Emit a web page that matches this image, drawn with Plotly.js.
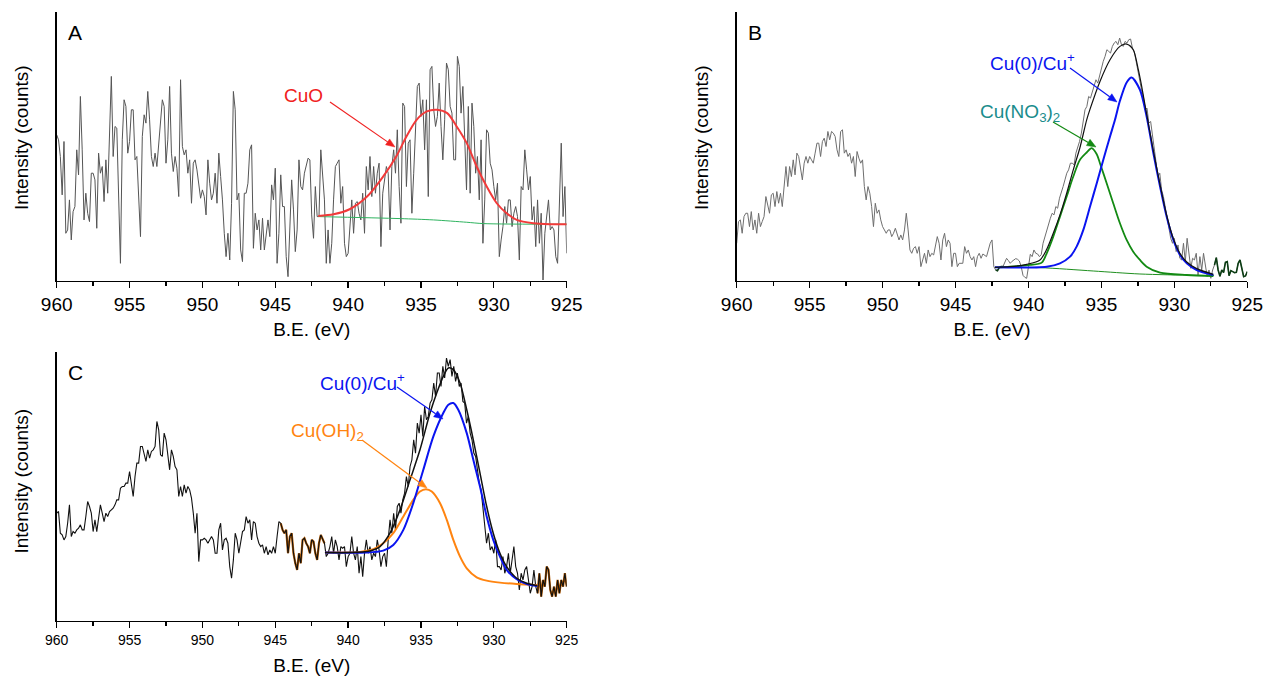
<!DOCTYPE html>
<html>
<head>
<meta charset="utf-8">
<script src="https://cdn.plot.ly/plotly-3.0.1.min.js"></script>
<style>html,body{margin:0;padding:0;background:#fff}#chart{width:1266px;height:678px}</style>
</head>
<body>
<div id="chart"></div>
<script>
// ---- energy grid (B.E., eV): data sampled every 0.125 eV from 960 eV down to 925 eV
const beStart = 960;
const beStep = 0.125;
const beTicks = [960, 955, 950, 945, 940, 935, 930, 925];
const beTickText = ['960', '955', '950', '945', '940', '935', '930', '925'];
const beMinorTicks = [957.5, 952.5, 947.5, 942.5, 937.5, 932.5, 927.5];

// ---- Panel A: raw counts (arbitrary units)
const countsA = [
438,423,373,258,418,143,153,243,123,208,
223,393,318,553,393,183,263,203,178,323,
323,303,158,383,323,343,238,363,263,433,
613,373,463,458,283,53,423,543,523,383,
418,513,513,363,373,273,133,433,498,473,
568,483,373,343,383,343,403,473,543,523,
353,423,583,383,328,373,338,253,603,403,
378,393,323,363,233,353,363,333,283,248,
273,253,198,363,293,243,263,323,233,383,
313,243,143,73,143,63,233,568,513,243,
263,93,58,263,263,293,393,408,98,203,
153,183,93,188,93,143,183,133,288,243,
338,53,143,318,223,223,73,13,143,303,
213,88,153,363,283,273,323,343,368,363,
198,128,283,193,
193,393,313,243,53,153,53,113,243,343,
353,363,233,283,113,73,83,183,243,143,
233,238,203,183,263,143,343,273,373,253,
343,263,323,353,103,263,303,343,323,153,
343,393,323,453,283,173,533,523,283,413,
423,203,323,473,583,593,493,543,393,543,
253,633,643,513,463,493,593,463,363,483,
653,633,523,503,363,363,673,643,503,583,
433,273,523,263,533,463,323,373,243,423,
113,243,453,443,353,333,283,243,293,73,
123,163,223,173,243,243,163,203,223,193,
63,283,273,393,333,273,313,183,223,103,
243,113,203,3,143,193,243,153,163,153,
73,53,203,413,193,283,83
];
const cuoFitBE = [942.05,941.0,939.9,938.7,937.6,936.7,936.0,935.3,934.6,933.9,933.2,932.55,931.86,931.18,930.49,929.8,929.12,928.43,927.29,926.14,925.0];
const cuoFitCounts = [195,200,215,253,313,373,433,483,508,513,503,463,413,343,283,233,203,183,173,170,170];
const bgA_BE = [942.05,936.44,934.15,931.86,930.7,925.0];
const bgA_Counts = [193,187,183,176,172,170];

// ---- Panel B
const countsB = [
113,178,183,143,193,203,203,163,208,153,
183,143,203,163,178,193,253,223,203,258,
263,223,268,233,263,223,273,343,283,343,
313,363,318,383,373,333,303,353,373,353,
373,363,353,383,413,413,373,418,428,403,
448,423,448,443,433,393,373,448,453,383,
393,373,383,353,373,313,388,368,353,363,
283,243,283,263,223,163,233,203,213,183,
163,153,143,153,153,133,143,158,143,123,
138,123,153,203,153,93,83,98,103,83,
103,43,63,83,53,93,73,83,78,103,
133,113,63,123,143,103,123,113,43,83,
83,43,53,53,53,103,83,93,73,63,
73,43,73,83,
68,81,78,73,93,113,123,43,33,31,
40,43,43,55,68,61,53,59,63,67,
65,60,43,17,11,8,43,80,73,93,
83,81,73,79,
113,133,153,173,188,203,198,223,218,248,
263,283,303,323,333,353,353,348,383,398,
418,443,473,513,523,553,548,568,588,603,
593,618,643,658,673,693,688,683,703,713,
718,708,728,708,703,718,713,723,725,698,
688,658,633,608,573,553,513,518,473,478,
433,393,358,313,323,273,253,223,188,153,
128,113,128,88,108,68,63,113,58,128,
88,38,68,63,83,18,73,33,83,53,
13,33,8,33,
48,70,33,14,33,25,56,58,16,31,
28,25,26,53,63,33,13,15,28
];
const bgB_BE = [942.30,939.21,935.56,932.36,928.70,927.28];
const bgB_Counts = [41,40,30,21,17,16];
const envB_BE = [942.30,941.27,940.12,939.21,938.75,938.30,937.84,937.38,936.93,936.47,936.01,935.78,935.10,934.41,933.73,933.27,932.82,932.47,932.24,931.90,931.44,930.98,930.53,930.07,929.61,929.15,928.47,927.33];
const envB_Counts = [41,43,50,63,95,143,198,263,333,400,483,515,598,663,703,710,693,633,583,500,390,288,197,127,82,57,37,20];
const cu0B_BE = [942.30,938.75,937.84,937.15,936.70,936.24,935.78,935.32,934.87,934.41,934.07,933.73,933.27,932.93,932.36,931.90,931.44,930.98,930.53,930.07,929.61,929.15,928.47,927.33];
const cu0B_Counts = [41,43,53,73,103,153,223,293,363,433,483,540,595,610,573,493,383,283,193,123,78,53,33,18];
const no3B_BE = [941.95,939.90,939.09,938.75,938.30,937.84,937.38,936.93,936.47,936.01,935.67,935.32,935.10,934.64,934.19,933.73,933.27,932.82,932.36,931.90,930.98,929.15,927.33];
const no3B_Counts = [41,48,55,83,133,193,253,313,363,385,398,380,353,293,233,173,123,88,63,43,25,18,15];

// ---- Panel C
const countsC = [
323,328,263,258,243,253,293,348,253,268,
263,273,278,288,273,273,313,358,343,323,
268,303,268,303,348,323,298,323,313,328,
333,338,348,363,363,398,403,403,413,413,
448,413,373,433,473,473,523,523,503,478,
513,488,508,513,523,598,573,498,493,563,
543,498,453,513,493,463,453,373,403,373,
408,383,403,393,368,323,263,323,178,243,
243,248,243,233,243,253,243,203,203,273,
293,213,243,248,233,163,128,183,263,243,
203,233,268,273,313,293,303,243,298,293,
253,233,223,228,203,223,198,213,203,223,
203,253,298,293,273,263,273,203,253,263,
203,173,153,203,173,243,248,233,223,203,
243,238,203,183,
233,258,243,233,193,203,223,253,203,243,
223,183,223,218,223,163,193,203,253,203,
183,223,143,193,133,203,243,203,223,183,
203,193,243,213,163,193,203,163,243,303,
263,323,273,343,353,323,363,383,433,403,
463,483,543,503,593,563,618,553,643,603,
613,653,663,713,673,743,743,703,763,728,
788,763,783,733,763,718,743,703,713,658,
653,593,613,563,543,503,493,453,413,393,
343,303,233,263,213,223,203,243,163,163,
153,193,143,163,203,143,183,223,163,143,
93,143,123,153,163,113,83,103,153,103,
83,143,73,123,103,163,153,93,73,103,
73,123,83,123,103,143,103
];
const cu0C_BE = [941.59,938.73,937.59,936.90,936.21,935.53,934.84,934.15,933.47,933.12,932.78,932.44,931.86,931.41,930.95,930.49,930.04,929.58,929.12,928.43,927.74,927.02];
const cu0C_Counts = [205,205,211,228,273,353,453,553,623,648,653,633,563,483,403,313,243,193,153,125,111,105];
const ohC_BE = [941.59,939.19,938.27,937.59,936.90,936.21,935.53,935.07,934.66,934.26,933.69,933.23,932.78,932.32,931.86,931.18,930.49,929.58,928.43,927.02];
const ohC_Counts = [205,207,215,233,263,313,363,388,395,388,353,303,243,193,158,131,121,115,111,108];
const envC_BE = [941.59,938.73,937.81,937.13,936.44,935.75,935.07,934.38,933.92,933.47,933.12,932.78,932.32,931.86,931.41,930.95,930.49,930.04,929.58,929.12,928.43,927.74,927.02];
const envC_Counts = [205,208,223,263,333,423,513,623,683,733,758,753,713,633,543,443,343,263,203,163,128,113,106];

// fit windows (eV) where raw data is over-drawn by the fit colour
const fitWindowB = [[942.3, 941.7], [927.3, 925]];
const fitWindowC = [[944.7, 941.6], [927.0, 925]];

// -------------------------------------------------------------
const energies = n => Array.from({length: n}, (_, i) => +(beStart - i * beStep).toFixed(3));
const eA = energies(countsA.length), eB = energies(countsB.length), eC = energies(countsC.length);
function subset(e, c, lo, hi) {
  const x = [], y = [];
  e.forEach((v, i) => { if (v <= hi + 1e-9 && v >= lo - 1e-9) { x.push(v); y.push(c[i]); } });
  return {x, y};
}
const FONT = '"Liberation Sans", Arial, Helvetica, sans-serif';
const traces = [];
function line(x, y, xa, ya, color, width, shape, name) {
  traces.push({x, y, xaxis: xa, yaxis: ya, type: 'scatter', mode: 'lines', name: name || '',
    line: {color, width, shape: shape || 'linear', smoothing: 0.8}, hoverinfo: 'skip'});
}
// A
line(eA, countsA, 'x', 'y', '#555555', 1, 'linear', 'Data A');
line(bgA_BE, bgA_Counts, 'x', 'y', '#2fb35f', 1, 'spline', 'Background');
line(cuoFitBE, cuoFitCounts, 'x', 'y', '#f23a3a', 2, 'spline', 'CuO');
// B
line(eB, countsB, 'x2', 'y2', '#6e6e6e', 1, 'linear', 'Data B');
fitWindowB.forEach(w => { const s = subset(eB, countsB, w[1], w[0]); line(s.x, s.y, 'x2', 'y2', '#0c3d14', 1.6, 'linear', 'fit range'); });
line(bgB_BE, bgB_Counts, 'x2', 'y2', '#1f8f1f', 1, 'spline', 'Background');
line(no3B_BE, no3B_Counts, 'x2', 'y2', '#138a13', 1.8, 'spline', 'Cu(NO3)2');
line(cu0B_BE, cu0B_Counts, 'x2', 'y2', '#0a14f0', 2, 'spline', 'Cu(0)/Cu+');
line(envB_BE, envB_Counts, 'x2', 'y2', '#111111', 1.2, 'spline', 'Envelope');
// C
fitWindowC.forEach(w => { const s = subset(eC, countsC, w[1], w[0]); line(s.x, s.y, 'x3', 'y3', '#b35a00', 2.2, 'linear', 'fit range'); });
line(eC, countsC, 'x3', 'y3', '#111111', 1.1, 'linear', 'Data C');
line(ohC_BE, ohC_Counts, 'x3', 'y3', '#ff8410', 2, 'spline', 'Cu(OH)2');
line(cu0C_BE, cu0C_Counts, 'x3', 'y3', '#0a14f0', 2, 'spline', 'Cu(0)/Cu+');
line(envC_BE, envC_Counts, 'x3', 'y3', '#111111', 1.5, 'spline', 'Envelope');

const W = 1266, H = 678;
const px = v => v / W, py = v => 1 - v / H;
function xaxisDef(domain, anchor, tickSize, standoff) {
  return {domain, anchor, range: [960, 925], autorange: false,
    tickmode: 'array', tickvals: beTicks, ticktext: beTickText,
    ticks: 'outside', ticklen: 6, tickwidth: 1.3, tickcolor: '#000',
    minor: {tickmode: 'array', tickvals: beMinorTicks, ticks: 'outside', ticklen: 4, tickwidth: 1.3, tickcolor: '#000', showgrid: false},
    showline: true, linecolor: '#000', linewidth: 1.4, mirror: false,
    showgrid: false, zeroline: false, ticklabelstandoff: 0,
    tickfont: {family: FONT, size: tickSize, color: '#000'},
    title: {text: 'B.E. (eV)', font: {family: FONT, size: 19, color: '#000'}, standoff}};
}
function yaxisDef(domain, anchor) {
  return {domain, anchor, range: [0, 806], autorange: false,
    showline: true, linecolor: '#000', linewidth: 1.4, ticks: '', showticklabels: false,
    showgrid: false, zeroline: false};
}
function arrowShapes(hx, hy, tx, ty, color) {
  const dx = hx - tx, dy = hy - ty, L = Math.hypot(dx, dy), ux = dx / L, uy = dy / L;
  const hl = 9, hw = 3.6;
  const bx = hx - ux * hl, by = hy - uy * hl;
  const lx = bx - uy * hw, ly = by + ux * hw, rx = bx + uy * hw, ry = by - ux * hw;
  return [
    {type: 'line', xref: 'paper', yref: 'paper', x0: px(tx), y0: py(ty), x1: px(bx), y1: py(by), line: {color, width: 1.2}},
    {type: 'path', xref: 'paper', yref: 'paper', path: `M ${px(hx)},${py(hy)} L ${px(lx)},${py(ly)} L ${px(rx)},${py(ry)} Z`, fillcolor: color, line: {color, width: 0.5}}
  ];
}
const label = (cx, cy, text, color, size, angle) => ({x: px(cx), y: py(cy), xref: 'paper', yref: 'paper', text,
  showarrow: false, xanchor: 'center', yanchor: 'middle', textangle: angle || 0, font: {family: FONT, size: size || 19, color}});

const layout = {
  width: W, height: H, margin: {l: 0, r: 0, t: 0, b: 0},
  paper_bgcolor: '#fff', plot_bgcolor: '#fff', showlegend: false,
  font: {family: FONT, color: '#000'},
  xaxis: xaxisDef([px(56.7), px(566.7)], 'y', 19, 8),
  yaxis: yaxisDef([py(281), py(12)], 'x'),
  xaxis2: xaxisDef([px(736.7), px(1247.3)], 'y2', 19, 8),
  yaxis2: yaxisDef([py(281), py(12)], 'x2'),
  xaxis3: xaxisDef([px(56.7), px(566.7)], 'y3', 14, 11),
  yaxis3: yaxisDef([py(621), py(352)], 'x3'),
  shapes: [].concat(
    arrowShapes(395, 147, 330, 102, '#f02020'),
    arrowShapes(1117, 102, 1070, 68, '#0a14f0'),
    arrowShapes(1096, 147, 1053, 122, '#138a13'),
    arrowShapes(443, 419, 397, 387, '#0a14f0'),
    arrowShapes(427, 488, 362, 440, '#ff8410')
  ),
  annotations: [
    label(21.5, 137.5, 'Intensity (counts)', '#000', 19, -90),
    label(701.5, 137.5, 'Intensity (counts)', '#000', 19, -90),
    label(21.5, 481, 'Intensity (counts)', '#000', 19, -90),
    label(74.5, 32.5, 'A', '#000', 21),
    label(755, 32.5, 'B', '#000', 21),
    label(75, 372.5, 'C', '#000', 21),
    label(303, 95, 'CuO', '#f02020'),
    label(1032, 62, 'Cu(0)/Cu<sup>+</sup>', '#0a14f0'),
    label(1020, 113, 'Cu(NO<sub>3</sub>)<sub>2</sub>', '#1a8c8c'),
    label(362, 382, 'Cu(0)/Cu<sup>+</sup>', '#0a14f0'),
    label(327, 432, 'Cu(OH)<sub>2</sub>', '#ff8410')
  ]
};
Plotly.newPlot('chart', traces, layout, {staticPlot: true, displayModeBar: false});
</script>
</body>
</html>
